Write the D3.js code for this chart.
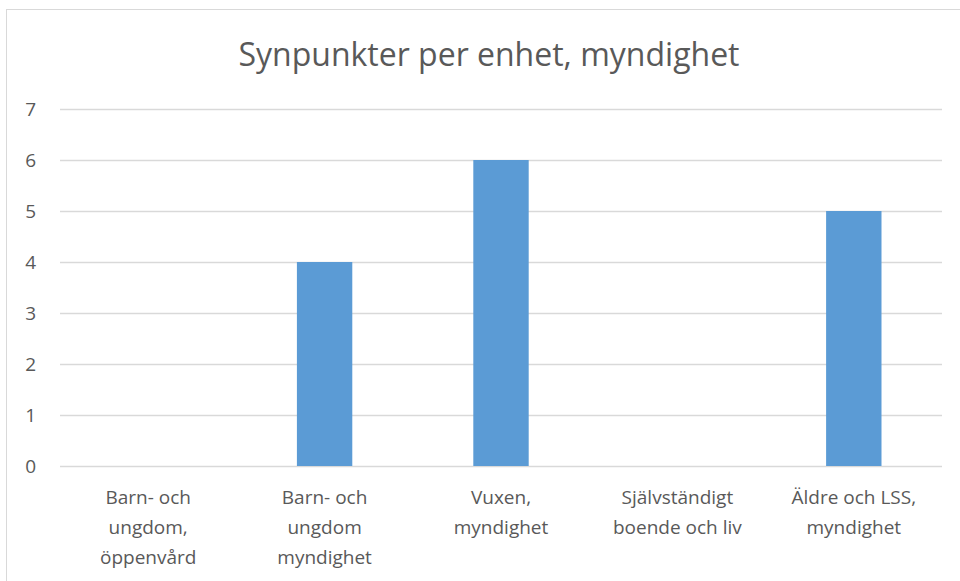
<!DOCTYPE html>
<html>
<head>
<meta charset="utf-8">
<script src="https://cdn.jsdelivr.net/npm/d3@7"></script>
<style>
  body { margin: 0; background: #fff; }
  text { font-family: "Open Sans", Arial, sans-serif; fill: #595959; }
</style>
</head>
<body>
<div id="chart"></div>
<script>
// data
var categories = [
  ["Barn- och", "ungdom,", "öppenvård"],
  ["Barn- och", "ungdom", "myndighet"],
  ["Vuxen,", "myndighet"],
  ["Självständigt", "boende och liv"],
  ["Äldre och LSS,", "myndighet"]
];
var values = [0, 4, 6, 0, 5];
var yTicks = [0, 1, 2, 3, 4, 5, 6, 7];
var title = "Synpunkter per enhet, myndighet";

var svgWidth = 960;
var svgHeight = 581;

var margin = { top: 109, right: 18, bottom: 115, left: 60 };
var width = svgWidth - margin.left - margin.right;
var height = svgHeight - margin.top - margin.bottom;

var svg = d3.select("#chart")
  .append("svg")
  .attr("width", svgWidth)
  .attr("height", svgHeight);

// chart frame
svg.append("rect")
  .attr("x", 6.5)
  .attr("y", 9.5)
  .attr("width", svgWidth)
  .attr("height", svgHeight)
  .attr("fill", "#fff")
  .attr("stroke", "#d9d9d9");

svg.append("text")
  .attr("x", 489)
  .attr("y", 66)
  .attr("text-anchor", "middle")
  .style("font-size", "32px")
  .text(title);

var chartGroup = svg.append("g")
  .attr("transform", `translate(${margin.left}, ${margin.top})`);

var xScale = d3.scaleBand()
  .domain(d3.range(categories.length))
  .range([0, width])
  .paddingInner(0.686)
  .paddingOuter(0.343);

var yScale = d3.scaleLinear()
  .domain([0, 7])
  .range([height, 0]);

// gridlines
chartGroup.selectAll(".grid")
  .data(yTicks)
  .enter()
  .append("line")
  .attr("x1", 0)
  .attr("x2", width)
  .attr("y1", d => Math.round(yScale(d)) + 0.5)
  .attr("y2", d => Math.round(yScale(d)) + 0.5)
  .attr("stroke", "#d9d9d9")
  .attr("stroke-width", 1.5);

// y labels
var leftAxis = d3.axisLeft(yScale)
  .tickValues(yTicks)
  .tickFormat(d3.format("d"))
  .tickSize(0)
  .tickPadding(24);
var yAxis = chartGroup.append("g").call(leftAxis);
yAxis.select(".domain").remove();
yAxis.selectAll("text")
  .style("font-size", "19px")
  .style("font-family", "Open Sans, Arial, sans-serif")
  .attr("fill", "#595959");

// bars
chartGroup.selectAll(".bar")
  .data(values)
  .enter()
  .append("rect")
  .attr("x", (d, i) => xScale(i))
  .attr("y", d => yScale(d))
  .attr("width", xScale.bandwidth())
  .attr("height", d => height - yScale(d))
  .attr("fill", "#5b9bd5");

// x labels
var xLabels = chartGroup.selectAll(".xlabel")
  .data(categories)
  .enter()
  .append("text")
  .attr("text-anchor", "middle")
  .attr("x", (d, i) => xScale(i) + xScale.bandwidth() / 2)
  .attr("y", height + 38)
  .style("font-size", "19px");

xLabels.selectAll("tspan")
  .data(d => d)
  .enter()
  .append("tspan")
  .attr("x", function() { return d3.select(this.parentNode).attr("x"); })
  .attr("dy", (d, i) => i === 0 ? 0 : 30)
  .text(d => d);
</script>
</body>
</html>
